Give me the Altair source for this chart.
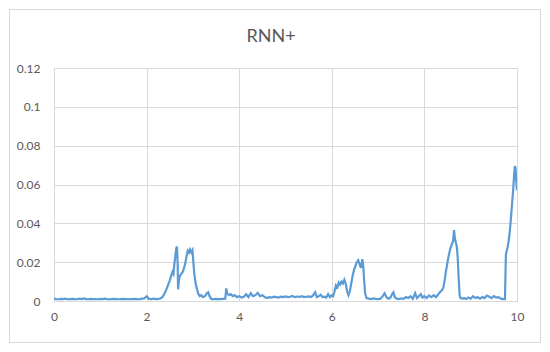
import altair as alt
import pandas as pd

# x positions (time) and values (in thousandths)
xs = [0.0,0.05,0.1,0.15,0.2,0.25,0.3,0.35,0.4,0.45,0.5,0.55,0.6,0.65,0.7,0.75,0.8,0.85,0.9,0.95,
      1.0,1.05,1.1,1.15,1.2,1.25,1.3,1.35,1.4,1.45,1.5,1.55,1.6,1.65,1.7,1.75,1.8,1.85,1.9,1.95,
      2.0,2.05,2.1,2.15,2.2,2.25,2.3,
      2.34,2.38,2.42,2.46,2.5,2.53,2.56,2.58,2.6,2.62,2.64,2.655,2.67,2.68,2.7,2.72,2.75,2.78,2.81,2.84,
      2.87,2.89,2.92,2.94,2.97,2.99,3.01,3.03,3.06,3.09,3.12,3.15,3.18,3.22,3.26,3.3,3.33,3.36,3.4,3.45,
      3.5,3.55,3.6,3.65,3.7,3.72,3.74,3.78,3.82,3.86,3.9,3.95,4.0,4.05,4.1,4.15,4.2,4.25,4.3,4.35,4.4,
      4.45,4.5,4.55,4.6,4.65,4.7,4.75,4.8,4.85,4.9,4.95,5.0,5.05,5.1,5.15,5.2,5.25,5.3,5.35,5.4,5.45,
      5.5,5.55,5.6,5.64,5.68,5.72,5.76,5.8,5.84,5.88,5.92,5.96,6.0,6.03,
      6.06,6.09,6.12,6.15,6.18,6.21,6.24,6.27,6.3,6.33,6.36,6.39,6.42,6.45,6.48,6.51,6.54,6.57,6.6,6.63,
      6.66,6.68,6.7,6.72,6.75,6.8,6.85,6.9,6.95,7.0,7.05,7.1,7.14,7.18,7.22,7.26,7.3,7.33,7.36,7.4,7.45,
      7.5,7.55,7.6,7.65,7.7,7.75,7.8,7.84,7.88,7.92,7.96,8.0,8.05,8.1,8.15,8.2,8.25,8.3,8.35,8.38,8.41,
      8.44,8.47,8.5,8.53,8.56,8.59,8.62,8.64,8.66,8.68,8.7,8.72,8.74,8.76,8.78,8.82,8.86,8.9,8.95,9.0,
      9.05,9.1,9.15,9.2,9.25,9.3,9.35,9.4,9.45,9.5,9.55,9.6,9.65,9.7,9.74,9.76,9.78,9.8,9.82,9.84,9.86,
      9.88,9.9,9.92,9.94,9.955,9.97,9.98,9.99,10.0]

ys_milli = [1.2,1.0,0.9,1.1,1.0,1.2,0.9,1.0,1.1,1.0,0.9,1.2,1.0,1.3,1.0,0.9,1.1,1.0,1.0,0.9,
            1.1,1.0,1.2,1.0,0.9,1.0,1.1,1.0,0.9,1.0,1.1,1.0,0.9,1.0,1.0,1.1,1.0,0.9,1.2,1.3,
            2.4,1.1,1.0,1.2,1.0,1.1,1.3,
            2.0,3.5,5.5,8.0,10.5,13,15,14,19,23,27,28,20,6,11,13,14,15,17,20,
            24,26,25,26.5,25,26,20,14,9,6,3.5,2.5,3.0,2.0,2.5,4.0,4.5,2.5,1.0,1.0,
            1.1,1.0,1.0,1.1,1.2,6.5,4.0,3.0,3.5,2.5,3.0,2.0,2.5,1.8,2.2,3.5,2.0,4.0,2.5,3.0,4.2,
            2.5,3.0,2.0,1.5,2.0,1.8,2.2,2.0,1.8,2.2,2.0,2.4,2.0,2.2,2.6,2.0,2.3,2.1,2.5,2.0,2.2,
            2.4,2.0,3.0,4.5,2.0,2.5,3.2,2.0,2.2,1.8,3.5,2.0,3.0,2.5,
            5.0,8.0,7.0,9.5,8.5,10,9,11,9,5,3.0,5,9,13,16,18,20,21,19,17,
            21.5,18,10,4,1.5,1.2,1.0,1.3,1.1,1.0,1.2,2.5,4.0,2.0,1.2,1.5,3.5,4.5,2.0,1.2,1.0,
            1.3,1.1,2.0,1.5,2.5,1.2,4.0,1.5,2.5,3.5,1.8,2.5,1.5,2.8,2.0,3.0,2.0,3.5,5.0,5.5,7,
            11,16,20,24,27,29,31,36.5,32,30,28,22,12,3,1.5,1.2,1.5,1.0,1.8,1.2,
            2.5,1.5,2.0,1.2,2.0,1.5,2.8,2.2,1.5,2.5,1.8,2.0,1.2,1.0,1.0,24,26,28,31,35,40,
            46,52,58,66,69.5,68,63,60,57]

title_text = ["RNN+"]

df = pd.DataFrame({"x": xs, "y": [v / 1000 for v in ys_milli]})

W, H = 463, 233
PL, PT, PR, PB = 46, 60, 25, 43

grid = "#d9d9d9"
txt = "#595959"
font = "Lato"

line = alt.Chart(df).mark_line(color="#5B9BD5", strokeWidth=2.2, clip=True).encode(
    x=alt.X("x:Q", scale=alt.Scale(domain=[0, 10], nice=False),
            axis=alt.Axis(values=[0, 2, 4, 6, 8, 10], format="d", title=None,
                          grid=True, gridColor=grid, domain=True, domainColor=grid,
                          ticks=False, labelPadding=10, labelColor=txt, labelFlush=False,
                          labelFontSize=12, labelFont=font)),
    y=alt.Y("y:Q", scale=alt.Scale(domain=[0, 0.12], nice=False),
            axis=alt.Axis(values=[0, 0.02, 0.04, 0.06, 0.08, 0.1, 0.12],
                          labelExpr="toString(round(datum.value * 100) / 100)",
                          title=None, grid=True, gridColor=grid, domain=False,
                          ticks=False, labelPadding=14, labelColor=txt, labelFlush=False,
                          labelFontSize=12, labelFont=font)),
)

frame = alt.Chart(pd.DataFrame({"a": [0]})).mark_rect(
    fillOpacity=0, stroke="#d9d9d9", strokeWidth=1, clip=False
).encode(
    x=alt.value(-PL + 1.5), x2=alt.value(W + PR - 1.5),
    y=alt.value(-PT + 1.5), y2=alt.value(H + PB - 1.5),
)

title = alt.Chart(pd.DataFrame({"t": title_text})).mark_text(
    fontSize=18, font=font, color=txt, align="center", baseline="middle"
).encode(
    text="t:N", x=alt.value(217), y=alt.value(-31),
)

chart = alt.layer(frame, line, title).properties(
    width=W, height=H,
    autosize=alt.AutoSizeParams(type="none"),
    padding={"left": PL, "top": PT, "right": PR, "bottom": PB},
).configure_view(stroke=None).configure(background="white")

chart.save("out.html", embed_options={"renderer": "svg", "actions": False})
